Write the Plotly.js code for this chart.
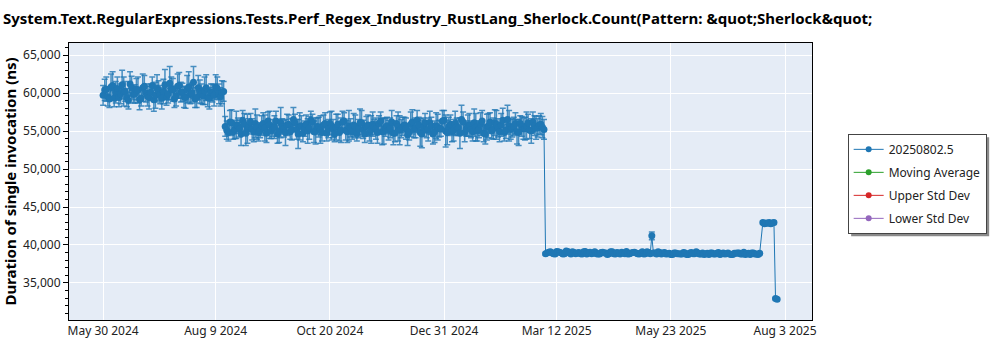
<!DOCTYPE html>
<html>
<head>
<meta charset="utf-8">
<script src="https://cdn.plot.ly/plotly-3.0.1.min.js"></script>
<style>html,body{margin:0;padding:0;background:#fff;}#chart{width:1000px;height:350px;}</style>
</head>
<body>
<div id="chart"></div>
<script>
// ---- Data ----
const titleText = "System.Text.RegularExpressions.Tests.Perf_Regex_Industry_RustLang_Sherlock.Count(Pattern: &amp;quot;Sherlock&amp;quot;";
const yTitle = "Duration of single invocation (ns)";
const seriesName = "20250802.5";
const otherSeries = ["Moving Average", "Upper Std Dev", "Lower Std Dev"];
const otherColors = ["#2ca02c", "#d62728", "#9467bd"];

const xTickVals = ["2024-05-30","2024-08-09","2024-10-20","2024-12-31","2025-03-12","2025-05-23","2025-08-03"];
const xTickText = ["May 30 2024","Aug 9 2024","Oct 20 2024","Dec 31 2024","Mar 12 2025","May 23 2025","Aug 3 2025"];

// Level 1 (~60,000 ns)
const dates1 = ["2024-05-30","2024-06-01","2024-06-03","2024-06-05","2024-06-07","2024-06-09","2024-06-11","2024-06-13","2024-06-15","2024-06-17","2024-06-19","2024-06-21","2024-06-23","2024-06-25","2024-06-27","2024-06-29","2024-07-01","2024-07-03","2024-07-05","2024-07-07","2024-07-09","2024-07-11","2024-07-13","2024-07-15","2024-07-17","2024-07-19","2024-07-21","2024-07-23","2024-07-25","2024-07-27","2024-07-29","2024-07-31","2024-08-02","2024-08-04","2024-08-06","2024-08-08","2024-08-10","2024-08-12","2024-08-14"];
const values1 = [59700,60500,59200,61000,60100,59400,61100,60200,59000,60700,59900,60400,59300,60900,59600,60100,59100,60600,59800,60200,59500,61300,60400,59600,61000,60100,59400,60800,60000,59200,60700,59900,60300,59400,60100,59700,60600,59500,60200];
const errors1 = [1300,1600,1100,1800,1400,1200,1900,1300,1100,1500,1200,1700,1000,1400,1300,1100,1500,1800,1200,1600,1100,2200,1500,1300,1700,1200,1400,2000,1300,1100,1600,1300,1800,1200,1100,1400,1500,1200,1300];
const dates1b = ["2024-05-31","2024-06-02","2024-06-04","2024-06-06","2024-06-08","2024-06-10","2024-06-12","2024-06-14","2024-06-16","2024-06-18","2024-06-20","2024-06-22","2024-06-24","2024-06-26","2024-06-28","2024-06-30","2024-07-02","2024-07-04","2024-07-06","2024-07-08","2024-07-10","2024-07-12","2024-07-14","2024-07-16","2024-07-18","2024-07-20","2024-07-22","2024-07-24","2024-07-26","2024-07-28","2024-07-30","2024-08-01","2024-08-03","2024-08-05","2024-08-07","2024-08-09","2024-08-11","2024-08-13"];
const values1b = [60400,59500,60800,59300,60600,59900,60200,59400,61200,59800,
60500,59100,60700,60000,59400,61000,59700,60300,59300,61100,
59900,60600,59200,60900,60100,59500,60500,59800,61400,59400,
60200,59600,60700,59300,60000,60800,59900,60100];
const errors1b = [1400,1200,1700,1100,1500,1300,1900,1200,1600,1100,1400,1300,1800,1200,1500,1100,1700,1300,1400,2000,1200,1500,1100,1600,1300,1400,1800,1200,2100,1300,1500,1100,1700,1400,1200,1600,1300,1500];

// Level 2 (~55,500 ns)
const dates2 = ["2024-08-16","2024-08-18","2024-08-20","2024-08-22","2024-08-24","2024-08-26","2024-08-28","2024-08-30","2024-09-01","2024-09-03","2024-09-05","2024-09-07","2024-09-09","2024-09-11","2024-09-13","2024-09-15","2024-09-17","2024-09-19","2024-09-21","2024-09-23","2024-09-25","2024-09-27","2024-09-29","2024-10-01","2024-10-03","2024-10-05","2024-10-07","2024-10-09","2024-10-11","2024-10-13","2024-10-15","2024-10-17","2024-10-19","2024-10-21","2024-10-23","2024-10-25","2024-10-27","2024-10-29","2024-10-31","2024-11-02","2024-11-04","2024-11-06","2024-11-08","2024-11-10","2024-11-12","2024-11-14","2024-11-16","2024-11-18","2024-11-20","2024-11-22","2024-11-24","2024-11-26","2024-11-28","2024-11-30","2024-12-02","2024-12-04","2024-12-06","2024-12-08","2024-12-10","2024-12-12","2024-12-14","2024-12-16","2024-12-18","2024-12-20","2024-12-22","2024-12-24","2024-12-26","2024-12-28","2024-12-30","2025-01-01","2025-01-03","2025-01-05","2025-01-07","2025-01-09","2025-01-11","2025-01-13","2025-01-15","2025-01-17","2025-01-19","2025-01-21","2025-01-23","2025-01-25","2025-01-27","2025-01-29","2025-01-31","2025-02-02","2025-02-04","2025-02-06","2025-02-08","2025-02-10","2025-02-12","2025-02-14","2025-02-16","2025-02-18","2025-02-20","2025-02-22","2025-02-24","2025-02-26","2025-02-28","2025-03-02","2025-03-04"];
const values2 = [55100,56200,54900,55800,55300,56400,54700,55600,55200,56000,
54800,55700,55400,56300,55000,55500,54600,56100,55300,55800,
54900,56500,55200,55600,54700,55900,55400,56200,55000,55500,
54800,56000,55300,55700,54600,55900,55100,56300,54900,55400,
55800,54700,56100,55200,55600,54800,55900,55300,56000,54900,
55500,55100,56200,54700,55600,55300,55800,54500,55900,55200,
56400,54800,55500,55100,56100,54600,55700,55300,56300,55000,
55600,54900,56000,55400,56500,54800,55700,55200,56100,55000,
55900,54700,55500,56200,55300,55800,54900,56400,55100,55700,
55400,56000,54800,55600,55300,56100,55000,55700,55400,55900,
55200];
const errors2 = [1200,1500,1000,1800,1100,1300,1600,1000,1400,1900,
1100,1300,1700,1200,1000,1500,1200,2000,1100,1400,
1000,1600,1300,1800,1100,1200,1500,1000,1700,1300,
1100,1400,1200,1900,1000,1300,1600,1100,1400,1200,
1500,1000,1800,1200,1300,1100,1600,1400,1000,1700,
1200,1300,1500,1100,1900,1200,1000,1400,1600,1100,
1300,1800,1200,1000,1500,1300,1700,1100,1400,2100,
1200,1300,1600,1000,1900,1200,1400,1100,1800,1300,
1500,1100,1700,1200,1400,1900,1300,1600,1100,2000,
1200,1400,1700,1300,1500,1100,1600,1300,1200,1400,
1300];
const dates2b = ["2024-08-15","2024-08-17","2024-08-19","2024-08-21","2024-08-23","2024-08-25","2024-08-27","2024-08-29","2024-08-31","2024-09-02","2024-09-04","2024-09-06","2024-09-08","2024-09-10","2024-09-12","2024-09-14","2024-09-16","2024-09-18","2024-09-20","2024-09-22","2024-09-24","2024-09-26","2024-09-28","2024-09-30","2024-10-02","2024-10-04","2024-10-06","2024-10-08","2024-10-10","2024-10-12","2024-10-14","2024-10-16","2024-10-18","2024-10-20","2024-10-22","2024-10-24","2024-10-26","2024-10-28","2024-10-30","2024-11-01","2024-11-03","2024-11-05","2024-11-07","2024-11-09","2024-11-11","2024-11-13","2024-11-15","2024-11-17","2024-11-19","2024-11-21","2024-11-23","2024-11-25","2024-11-27","2024-11-29","2024-12-01","2024-12-03","2024-12-05","2024-12-07","2024-12-09","2024-12-11","2024-12-13","2024-12-15","2024-12-17","2024-12-19","2024-12-21","2024-12-23","2024-12-25","2024-12-27","2024-12-29","2024-12-31","2025-01-02","2025-01-04","2025-01-06","2025-01-08","2025-01-10","2025-01-12","2025-01-14","2025-01-16","2025-01-18","2025-01-20","2025-01-22","2025-01-24","2025-01-26","2025-01-28","2025-01-30","2025-02-01","2025-02-03","2025-02-05","2025-02-07","2025-02-09","2025-02-11","2025-02-13","2025-02-15","2025-02-17","2025-02-19","2025-02-21","2025-02-23","2025-02-25","2025-02-27","2025-03-01","2025-03-03"];
const values2b = [55600,54800,56100,55200,55700,54600,55900,55300,56200,54900,
55500,55100,56000,54700,55800,55400,56300,55000,55600,54800,
55900,55200,56100,54600,55700,55300,55000,56400,54900,55600,
55200,55800,54700,56000,55300,55500,54800,56200,55100,55700,
54900,55600,55300,56100,54600,55800,55200,55500,54800,56300,
55000,55700,55400,54700,56000,55100,55600,55300,54900,56200,
55400,55800,54600,56100,55200,55700,54900,55500,55300,56400,
54800,55900,55100,55600,54700,56200,55300,55800,54900,55500,
55200,56300,54600,55700,55000,56100,55400,55800,54800,56500,
55200,55600,54900,56000,55300,55700,55100,56200,55400,55800,
55500];
const errors2b = [1300,1100,1700,1200,1000,1500,1400,1900,1100,1300,
1600,1000,1400,1200,1800,1100,1300,1500,1000,1700,
1200,1400,1100,1900,1300,1000,1600,1200,1400,1100,
1800,1300,1000,1500,1200,1700,1100,1400,1300,2000,
1000,1500,1200,1600,1100,1300,1800,1000,1400,1200,
1700,1100,1300,1500,1000,1900,1200,1400,1100,1600,
1300,1000,1800,1200,1500,1100,1400,1700,1000,1300,
1600,1200,1400,1100,2000,1300,1000,1500,1200,1800,
1100,1400,1300,1600,1000,1700,1200,1500,1100,1900,
1300,1200,1600,1000,1400,1800,1100,1300,1500,1200,
1400];

// Level 3 (~38,950 ns)
const dates3 = ["2025-03-06","2025-03-08","2025-03-10","2025-03-12","2025-03-14","2025-03-16","2025-03-18","2025-03-20","2025-03-22","2025-03-24","2025-03-26","2025-03-28","2025-03-30","2025-04-01","2025-04-03","2025-04-05","2025-04-07","2025-04-09","2025-04-11","2025-04-13","2025-04-15","2025-04-17","2025-04-19","2025-04-21","2025-04-23","2025-04-25","2025-04-27","2025-04-29","2025-05-01","2025-05-03","2025-05-05","2025-05-07","2025-05-09","2025-05-11","2025-05-13","2025-05-15","2025-05-17","2025-05-19","2025-05-21","2025-05-23","2025-05-25","2025-05-27","2025-05-29","2025-05-31","2025-06-02","2025-06-04","2025-06-06","2025-06-08","2025-06-10","2025-06-12","2025-06-14","2025-06-16","2025-06-18","2025-06-20","2025-06-22","2025-06-24","2025-06-26","2025-06-28","2025-06-30","2025-07-02","2025-07-04","2025-07-06","2025-07-08","2025-07-10","2025-07-12","2025-07-14","2025-07-16","2025-07-18"];
const values3 = [38950,39100,38850,39150,39000,38800,39200,38950,39100,38850,
39000,38800,39150,38950,38850,39100,38800,39000,38950,38750,
39100,38850,39000,38800,38950,39150,38850,39000,38950,38800,
39100,38850,39000,41200,38950,39100,38800,39000,38850,38750,
38950,38850,38800,39000,38750,38950,38850,39100,38800,38950,
38850,38750,38950,38800,39000,38850,38800,38950,38750,38900,
38950,38800,39050,38850,38750,38950,38800,38900];
const errors3 = [150,200,150,180,150,200,160,150,170,150,
150,190,150,160,150,200,150,170,150,180,
160,150,200,150,150,170,150,160,150,190,
150,160,150,500,150,180,150,160,150,200,
150,170,150,160,150,190,150,160,150,170,
150,200,150,160,150,170,150,160,150,190,
150,160,150,170,150,200,150,160];
const dates3b = ["2025-03-05","2025-03-07","2025-03-09","2025-03-11","2025-03-13","2025-03-15","2025-03-17","2025-03-19","2025-03-21","2025-03-23","2025-03-25","2025-03-27","2025-03-29","2025-03-31","2025-04-02","2025-04-04","2025-04-06","2025-04-08","2025-04-10","2025-04-12","2025-04-14","2025-04-16","2025-04-18","2025-04-20","2025-04-22","2025-04-24","2025-04-26","2025-04-28","2025-04-30","2025-05-02","2025-05-04","2025-05-06","2025-05-08","2025-05-10","2025-05-12","2025-05-14","2025-05-16","2025-05-18","2025-05-20","2025-05-22","2025-05-24","2025-05-26","2025-05-28","2025-05-30","2025-06-01","2025-06-03","2025-06-05","2025-06-07","2025-06-09","2025-06-11","2025-06-13","2025-06-15","2025-06-17","2025-06-19","2025-06-21","2025-06-23","2025-06-25","2025-06-27","2025-06-29","2025-07-01","2025-07-03","2025-07-05","2025-07-07","2025-07-09","2025-07-11","2025-07-13","2025-07-15","2025-07-17"];
const values3b = [38850,39050,38950,38800,39100,38950,38850,39150,38800,39000,
38950,38850,39100,38800,39050,38950,38850,38800,39050,38950,
38850,39100,38800,38950,39050,38850,38800,38950,39050,38850,
38950,38800,39100,38850,38950,38800,39000,38950,38800,38900,
38750,38950,38850,38800,38950,38750,39000,38850,38950,38800,
38750,38900,38950,38800,38900,38750,38950,38850,38800,38750,
38900,38950,38800,38750,38900,38950,38800,38750];
const errors3b = [160,150,180,150,200,150,170,150,160,190,
150,170,150,160,150,180,150,200,150,160,
170,150,160,150,190,150,170,150,160,150,
180,150,160,150,200,150,170,150,160,150,
190,150,160,150,170,150,180,150,160,150,
200,150,160,150,170,150,190,150,160,150,
170,150,180,150,160,150,170,150];

// Level 4 (~42,900 ns) and final drop (~32,900 ns)
const dates4 = ["2025-07-20","2025-07-21","2025-07-22","2025-07-23","2025-07-24","2025-07-25","2025-07-26","2025-07-27","2025-07-28","2025-07-29"];
const values4 = [42950,42800,42900,42850,42950,42800,42900,42950,32950,32850];
const errors4 = [200,180,200,170,190,180,200,170,150,160];

// ---- Build chart ----
const pts = [];
[[dates1, values1, errors1], [dates1b, values1b, errors1b], [dates2, values2, errors2], [dates2b, values2b, errors2b],
 [dates3, values3, errors3], [dates3b, values3b, errors3b], [dates4, values4, errors4]].forEach(([d, v, e]) => {
  d.forEach((x, i) => pts.push([x, v[i], e[i]]));
});
pts.sort((a, b) => a[0] < b[0] ? -1 : a[0] > b[0] ? 1 : 0);
const xAll = pts.map(p => p[0]), yAll = pts.map(p => p[1]), eAll = pts.map(p => p[2]);

const blue = "#1f77b4";
const legendNames = [seriesName].concat(otherSeries);
const legendColors = [blue].concat(otherColors);
const traces = [{
  type: "scatter", mode: "lines+markers", name: seriesName,
  x: xAll, y: yAll,
  line: {color: blue, width: 1},
  marker: {color: blue, size: 7},
  error_y: {type: "data", array: eAll, visible: true, color: "rgba(31,119,180,0.8)", thickness: 1.5, width: 3},
  legendgroup: "g0", showlegend: false
}];
legendNames.forEach((n, i) => traces.push({
  type: "scatter", mode: "lines+markers", name: n, x: [xAll[0]], y: [null],
  line: {color: legendColors[i], width: 1}, marker: {color: legendColors[i], size: 6},
  legendgroup: "g" + i, showlegend: true
}));

const layout = {
  width: 1000, height: 350,
  margin: {l: 69, r: 188, t: 43, b: 30, pad: 0},
  paper_bgcolor: "#ffffff", plot_bgcolor: "#e5ecf6",
  font: {family: "Noto Sans, DejaVu Sans, sans-serif", size: 12, color: "#222"},
  title: {text: titleText, x: 0.003, xref: "container", xanchor: "left", y: 0.947, yref: "container", yanchor: "middle",
    font: {family: "Noto Sans, sans-serif", size: 15, color: "#000", weight: "bold"}},
  showlegend: true,
  legend: {x: 1.048, xanchor: "left", y: 0.672, yanchor: "top", bgcolor: "#ffffff", bordercolor: "#444", borderwidth: 1,
    font: {size: 12, color: "#222"}, tracegroupgap: 4, traceorder: "grouped", itemwidth: 30},
  xaxis: {type: "date", range: ["2024-05-08 12:00", "2025-08-20"], tickmode: "array", tickvals: xTickVals, ticktext: xTickText,
    showgrid: true, gridcolor: "#ffffff", gridwidth: 1, showline: true, linecolor: "#000", linewidth: 1, mirror: true,
    ticks: "", zeroline: false, tickfont: {size: 12, color: "#222"}},
  yaxis: {range: [30130, 66580], tickmode: "linear", tick0: 0, dtick: 5000, tickformat: ",d",
    showgrid: true, gridcolor: "#ffffff", gridwidth: 1, showline: true, linecolor: "#000", linewidth: 1, mirror: true,
    ticks: "outside", ticklen: 5, tickcolor: "#000",
    minor: {ticks: "outside", ticklen: 3, dtick: 1000, tickcolor: "#000", showgrid: false},
    zeroline: false, tickfont: {size: 12, color: "#222"},
    title: {text: yTitle, standoff: 6, font: {size: 15, color: "#000", weight: "bold"}}},
  shapes: []
};

Plotly.newPlot("chart", traces, layout, {displayModeBar: false, staticPlot: true}).then(gd => {
  const lg = gd.querySelector(".legend .bg");
  if (lg) {
    const b = lg.getBoundingClientRect();
    const root = gd.getBoundingClientRect();
    const x0 = (b.left - root.left + 3), x1 = (b.right - root.left + 3);
    const y0 = (b.top - root.top + 3), y1 = (b.bottom - root.top + 3);
    Plotly.relayout(gd, {shapes: [{type: "rect", xref: "paper", yref: "paper", layer: "above",
      x0: (x0 - 69) / 743, x1: (x1 - 69) / 743, y0: (320 - y0) / 277, y1: (320 - y1) / 277,
      fillcolor: "#8a8a8a", line: {width: 0}}]});
  }
});
</script>
</body>
</html>
